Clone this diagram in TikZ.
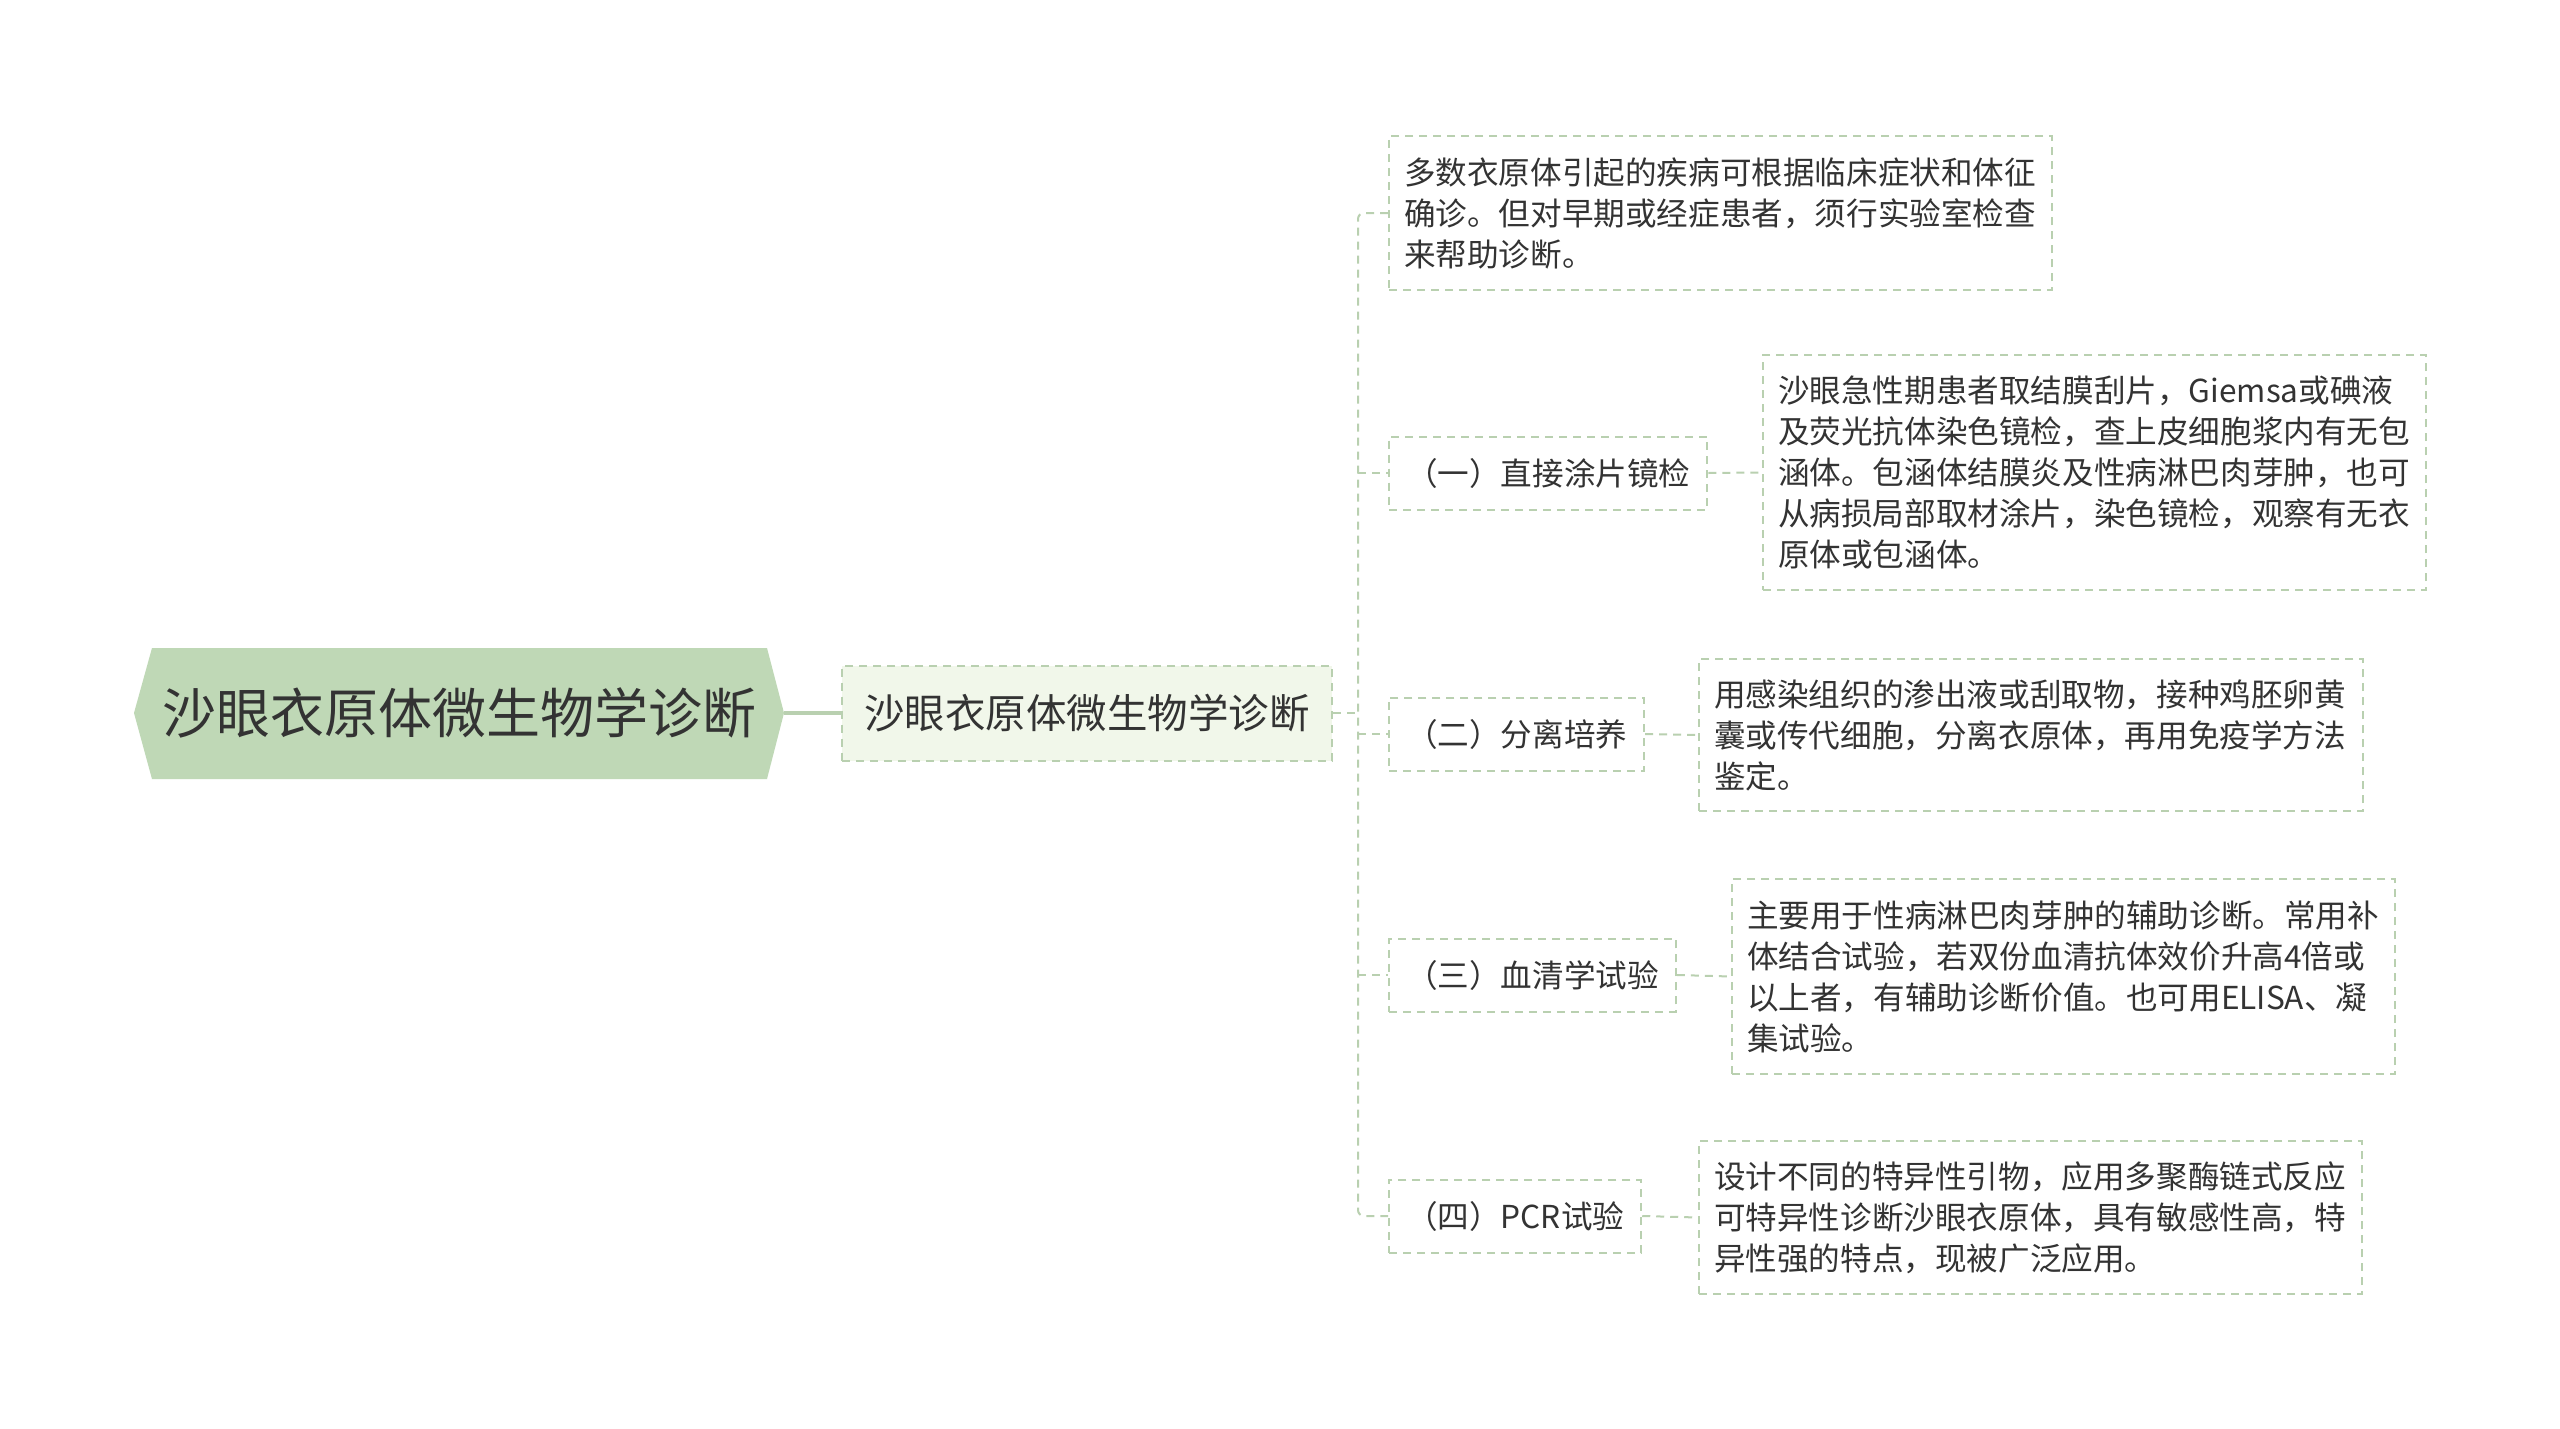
\documentclass[tikz,border=0pt]{standalone}
\usepackage{fontspec}
\setmainfont{Noto Sans CJK SC}
\definecolor{rootfill}{HTML}{BFD8B6}
\definecolor{subfill}{HTML}{F1F7EA}
\definecolor{lineclr}{HTML}{B9D0B0}
\definecolor{txt}{HTML}{333333}
\begin{document}
\begin{tikzpicture}[x=1pt,y=-1pt,
  every node/.style={text=txt, font=\fontsize{31.6}{41}\selectfont},
  dashline/.style={draw=lineclr, line width=2pt, dash pattern=on 8pt off 6pt},
  leafbox/.style={dashline, anchor=north west, align=left, inner xsep=15pt, inner ysep=0pt},
  labelbox/.style={dashline, anchor=west, inner xsep=17pt, inner ysep=0pt, minimum height=73pt},
  link/.style={dashline}]
\fill[white] (0,0) rectangle (2560,1429);
\useasboundingbox (0,0) rectangle (2560,1429);

% root
\fill[rootfill] (134,713) -- (152,648) -- (767,648) -- (784,713) -- (767,779) -- (152,779) -- cycle;
\node[minimum width=650pt, minimum height=131pt, inner sep=0pt, font=\fontsize{54}{60}\selectfont] (root) at (459,713) {沙眼衣原体微生物学诊断};

% second level
\node[dashline, fill=subfill, anchor=west, minimum height=95pt, minimum width=490pt, inner sep=0pt, font=\fontsize{40.5}{48}\selectfont] (sub) at (841,713) {沙眼衣原体微生物学诊断};
\draw[draw=lineclr, line width=4pt] (root.east) -- (sub.west);

% detail boxes
\node[leafbox, text width=633pt, minimum height=154pt] (d0) at (1388,135) {多数衣原体引起的疾病可根据临床症状和体征\\确诊。但对早期或经症患者，须行实验室检查\\来帮助诊断。};
\node[leafbox, text width=633pt, minimum height=235pt] (d1) at (1762,354) {沙眼急性期患者取结膜刮片，Giemsa或碘液\\及荧光抗体染色镜检，查上皮细胞浆内有无包\\涵体。包涵体结膜炎及性病淋巴肉芽肿，也可\\从病损局部取材涂片，染色镜检，观察有无衣\\原体或包涵体。};
\node[leafbox, text width=634pt, minimum height=152pt] (d2) at (1698,658) {用感染组织的渗出液或刮取物，接种鸡胚卵黄\\囊或传代细胞，分离衣原体，再用免疫学方法\\鉴定。};
\node[leafbox, text width=633pt, minimum height=195pt] (d3) at (1731,878) {主要用于性病淋巴肉芽肿的辅助诊断。常用补\\体结合试验，若双份血清抗体效价升高4倍或\\以上者，有辅助诊断价值。也可用ELISA、凝\\集试验。};
\node[leafbox, text width=633pt, minimum height=153pt] (d4) at (1698,1140) {设计不同的特异性引物，应用多聚酶链式反应\\可特异性诊断沙眼衣原体，具有敏感性高，特\\异性强的特点，现被广泛应用。};

% labels
\node[labelbox, minimum width=315pt] (l1) at (1388,473) {（一）直接涂片镜检};
\node[labelbox, minimum width=251pt] (l2) at (1388,734) {（二）分离培养};
\node[labelbox, minimum width=284pt] (l3) at (1388,975) {（三）血清学试验};
\node[labelbox, minimum width=250pt] (l4) at (1388,1216) {（四）PCR试验};

% connectors
\coordinate (tk) at (1358,713);
\draw[link] (sub.east) -- (tk);
\draw[link, rounded corners=6pt] (d0.west) -- (tk |- d0.west) -- (tk |- l4.west) -- (l4.west);
\draw[link] (tk |- l1.west) -- (l1.west);
\draw[link] (tk |- l2.west) -- (l2.west);
\draw[link] (tk |- l3.west) -- (l3.west);
\draw[link] (l1.east) -- (d1.west);
\draw[link] (l2.east) -- (d2.west);
\draw[link] (l3.east) -- (d3.west);
\draw[link] (l4.east) -- (d4.west);
\end{tikzpicture}
\end{document}
